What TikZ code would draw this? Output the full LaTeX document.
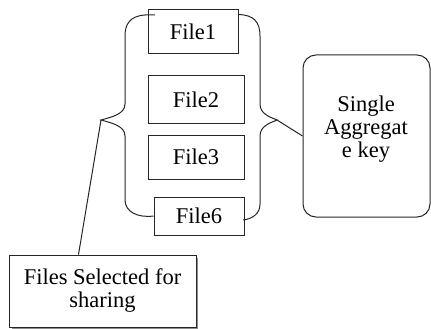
\documentclass[tikz,border=0pt]{standalone}
\usepackage{fontspec}
\setmainfont{Liberation Serif}
\begin{document}
\begin{tikzpicture}[x=1pt,y=-1pt,
  ln/.style={draw=black!85,line width=1pt},
  filebox/.style={ln,rectangle,inner sep=0pt,font=\fontsize{22.5}{24}\selectfont},
  txt/.style={align=center,font=\fontsize{22.5}{23}\selectfont}]
\useasboundingbox (0,0) rectangle (431,329);
% file boxes
\node[filebox,minimum width=90pt,minimum height=44pt] (f1) at (193,32) {File1};
\node[filebox,minimum width=96pt,minimum height=47pt] (f2) at (196,99.5) {File2};
\node[filebox,minimum width=96pt,minimum height=44pt] (f3) at (196,157) {File3};
\node[filebox,minimum width=90pt,minimum height=38pt] (f6) at (199,216) {File6};
% key box
\node[ln,rectangle,rounded corners=13pt,minimum width=127pt,minimum height=162pt] (key) at (366.5,136) {};
\node[txt] (keytext) at (366,129) {Single\\Aggregat\\e key};
% selected box with shadow
\fill[black!45] (12,258) rectangle (198,329);
\node[ln,fill=white,rectangle,minimum width=187pt,minimum height=72pt,txt] (sel) at (102.5,291) {Files Selected for\\sharing};
% cusps
\coordinate (lc) at (101,120);
\coordinate (rc) at (277,120);
% left brace
\draw[ln] (155,15) -- (145,15) .. controls (130,16) and (125,24) .. (125,36) -- (125,104)
  .. controls (125,114) and (112,117) .. (lc)
  .. controls (112,123) and (125,126) .. (125,136) -- (125,200)
  .. controls (125,212) and (138,218) .. (f6.west);
% right brace
\draw[ln] (f1.north east) ++(0,5) .. controls (254,15) and (260,22) .. (260,36) -- (260,104)
  .. controls (260,114) and (270,117) .. (rc)
  .. controls (270,123) and (260,126) .. (260,136) -- (260,204)
  .. controls (260,214) and (252,219) .. (243,220);
% leader lines
\draw[ln] (rc) -- (key.west);
\draw[ln] (lc) -- ([xshift=70pt]sel.north west);
\end{tikzpicture}
\end{document}
